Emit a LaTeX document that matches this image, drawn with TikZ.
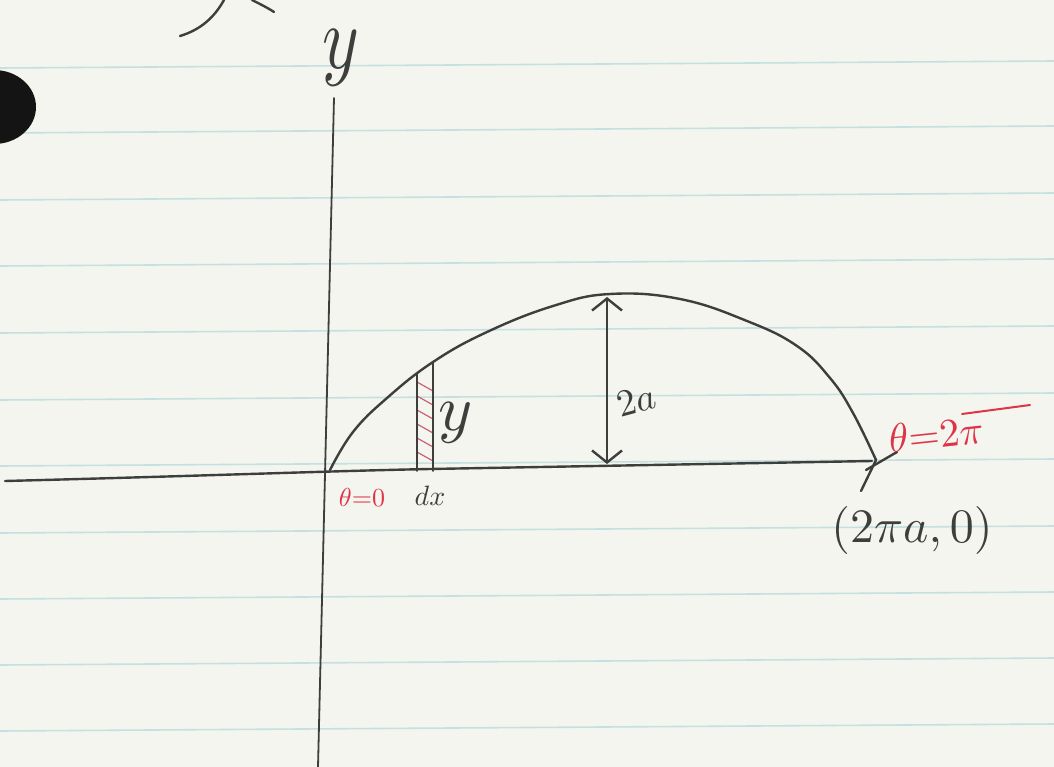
\documentclass[tikz,border=0pt]{standalone}
\usetikzlibrary{arrows.meta}
\definecolor{paper}{RGB}{244,245,238}
\definecolor{rulec}{RGB}{196,224,224}
\definecolor{inkc}{RGB}{62,62,60}
\definecolor{redink}{RGB}{222,52,72}
\definecolor{hatch}{RGB}{205,95,120}
\begin{document}
\begin{tikzpicture}[x=1pt,y=-1pt,
  ink/.style={draw=inkc, line width=2.4pt, line cap=round, line join=round},
  thin ink/.style={draw=inkc, line width=1.8pt, line cap=round},
  rink/.style={draw=redink, line width=2pt, line cap=round},
  hatchline/.style={draw=hatch, line width=1.2pt},
  rulestyle/.style={draw=rulec, line width=1.6pt},
  lbl/.style={inner sep=0pt, text=inkc},
  rlbl/.style={inner sep=0pt, text=redink}]
\useasboundingbox (0,0) rectangle (1054,767);
\fill[paper] (0,0) rectangle (1054,767);
% ruled lines of the paper
\foreach \yy in {65,130,197,263,330,397,463,530,596,662,728}
  \draw[rulestyle] (0,\yy+3) -- (1054,\yy-4);
% black blob at left edge
\begin{scope}
  \clip (0,0) rectangle (1054,767);
  \fill[black!92] (-6,107) ellipse (42 and 37);
\end{scope}
% partial handwriting at top
\draw[ink] (180,36) .. controls (200,30) and (214,18) .. (224,0);
\draw[ink] (252,0) .. controls (260,4) and (268,8) .. (274,12);
% axes
\coordinate (yt) at (334,98);
\coordinate (yb) at (318,767);
\coordinate (xl) at (5,481);
\coordinate (xr) at (872,461);
\draw[thin ink] (yt) -- (yb);
\draw[ink] (xl) .. controls (200,476) and (330,471) .. (430,469) -- (xr);
\node[lbl, xscale=7, yscale=9] (ylab) at (341,58) {$y$};
% cycloid arch
\draw[ink] plot[smooth, tension=0.7] coordinates {(330,470) (353,432) (387,398) (433,362) (487,332) (553,306) (610,294) (680,299) (747,321) (797,346) (830,378) (853,413) (876,460)};
\draw[ink] (876,460) -- (861,491);
\draw[ink] (866,470) -- (897,452);
% height arrow
\coordinate (at) at (607,297);
\coordinate (ab) at (607,464);
\draw[ink, {Straight Barb[length=12pt,width=30pt]}-{Straight Barb[length=12pt,width=30pt]}] (at) -- (ab);
\node[lbl, scale=3.8, rotate=15] (twoa) at (636,401) {$2a$};
% strip
\coordinate (s1t) at (417,374);
\coordinate (s1b) at (417,471);
\coordinate (s2t) at (433,362);
\coordinate (s2b) at (433,471);
\foreach \yy in {382,396,410,424,438,452}
  \draw[hatchline] (417,\yy) -- (433,\yy+9);
\draw[thin ink] (s1t) -- (s1b);
\draw[thin ink] (s2t) -- (s2b);
\node[lbl, scale=6.5] (ystrip) at (456,423) {$y$};
\node[lbl, scale=2.8] (dx) at (430,496) {$dx$};
% red labels
\node[rlbl, scale=4, rotate=6] (t2) at (936,434) {$\theta{=}2\pi$};
\node[rlbl, scale=2.6] (t0) at (362,497) {$\theta{=}0$};
\draw[rink] (962,414) -- (1030,405);
% end point label
\node[lbl, scale=4.8] (pt) at (912,530) {$(2\pi a,0)$};
\end{tikzpicture}
\end{document}
